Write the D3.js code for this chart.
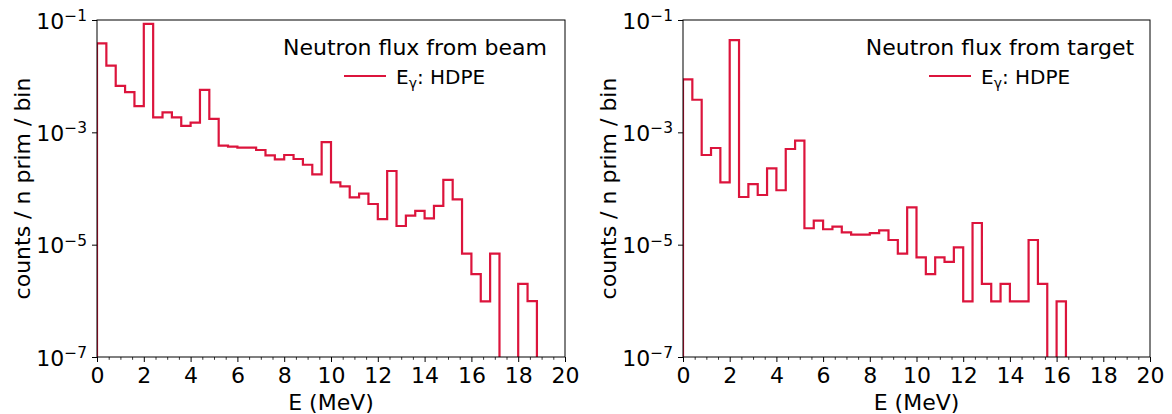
<!DOCTYPE html>
<html>
<head>
<meta charset="utf-8">
<script src="https://cdn.jsdelivr.net/npm/d3@7"></script>
<style>
  html, body { margin: 0; padding: 0; background: #fff; }
  svg { display: block; font-family: "DejaVu Sans", sans-serif; }
</style>
</head>
<body>
<svg id="chart" width="1172" height="414"></svg>
<script>
// ---------------- data ----------------
const binLowEdges = [0, 0.4, 0.8, 1.2, 1.6, 2.0, 2.4, 2.8, 3.2, 3.6, 4.0, 4.4, 4.8, 5.2, 5.6, 6.0, 6.4, 6.8, 7.2, 7.6,
  8.0, 8.4, 8.8, 9.2, 9.6, 10.0, 10.4, 10.8, 11.2, 11.6, 12.0, 12.4, 12.8, 13.2, 13.6, 14.0, 14.4, 14.8, 15.2, 15.6,
  16.0, 16.4, 16.8, 17.2, 17.6, 18.0, 18.4, 18.8, 19.2, 19.6];
const binWidthMeV = 0.4;

const beamFlux = [3.85e-2, 1.54e-2, 6.7e-3, 5.2e-3, 2.94e-3, 8.5e-2, 1.85e-3, 2.27e-3, 1.85e-3, 1.30e-3,
  1.49e-3, 5.7e-3, 1.73e-3, 5.8e-4, 5.55e-4, 5.33e-4, 5.33e-4, 4.85e-4, 3.9e-4, 3.31e-4,
  3.95e-4, 3.35e-4, 2.65e-4, 1.78e-4, 6.7e-4, 1.29e-4, 1.09e-4, 6.97e-5, 8.1e-5, 5.3e-5,
  2.86e-5, 2.05e-4, 2.15e-5, 3.28e-5, 3.98e-5, 2.95e-5, 4.9e-5, 1.42e-4, 6.4e-5, 6.9e-6,
  3.0e-6, 9.8e-7, 6.9e-6, 0, 0, 2.0e-6, 9.9e-7, 0, 0, 0];

const targetFlux = [8.8e-3, 3.8e-3, 3.95e-4, 5.26e-4, 1.29e-4, 4.4e-2, 7.06e-5, 1.2e-4, 7.66e-5, 2.29e-4,
  9.3e-5, 5.05e-4, 7.1e-4, 1.96e-5, 2.67e-5, 1.88e-5, 2.09e-5, 1.66e-5, 1.51e-5, 1.51e-5,
  1.6e-5, 1.8e-5, 1.21e-5, 6.9e-6, 4.62e-5, 5.96e-6, 3.0e-6, 5.96e-6, 4.92e-6, 8.98e-6,
  9.8e-7, 2.43e-5, 2.0e-6, 9.8e-7, 2.0e-6, 9.8e-7, 9.8e-7, 1.21e-5, 2.0e-6, 0,
  9.8e-7, 0, 0, 0, 0, 0, 0, 0, 0, 0];

const xMajorTicks = [0, 2, 4, 6, 8, 10, 12, 14, 16, 18, 20];
const xMinorTicks = [0.5, 1, 1.5, 2.5, 3, 3.5, 4.5, 5, 5.5, 6.5, 7, 7.5, 8.5, 9, 9.5, 10.5, 11, 11.5,
  12.5, 13, 13.5, 14.5, 15, 15.5, 16.5, 17, 17.5, 18.5, 19, 19.5];
const yTicks = [1e-1, 1e-3, 1e-5, 1e-7];
const yTickExponents = ["\u22121", "\u22123", "\u22125", "\u22127"];

const panelTitles = ["Neutron flux from beam", "Neutron flux from target"];
const seriesLabelMain = "E";
const seriesLabelSub = "\u03B3";
const seriesLabelRest = ": HDPE";
const xLabel = "E (MeV)";
const yLabel = "counts / n prim / bin";

// ---------------- layout ----------------
const svg = d3.select("#chart");
const yTop = 20, yBot = 357;
const panels = [
  { x0: 97, x1: 565, data: beamFlux, title: panelTitles[0] },
  { x0: 683, x1: 1150, data: targetFlux, title: panelTitles[1] }
];
const lineColor = "#dc143c";

panels.forEach((p, pi) => {
  const x = d3.scaleLinear().domain([0, 20]).range([p.x0, p.x1]);
  const y = d3.scaleLog().domain([1e-7, 1e-1]).range([yBot, yTop]);
  const g = svg.append("g");

  const clipId = "clip" + pi;
  svg.append("defs").append("clipPath").attr("id", clipId)
    .append("rect").attr("x", p.x0).attr("y", yTop)
    .attr("width", p.x1 - p.x0).attr("height", yBot - yTop);

  // step histogram
  const floorVal = 1e-9;
  const pts = [];
  pts.push([binLowEdges[0], floorVal]);
  p.data.forEach((v, i) => {
    const vv = v > 0 ? v : floorVal;
    pts.push([binLowEdges[i], vv]);
    pts.push([binLowEdges[i] + binWidthMeV, vv]);
  });
  pts.push([binLowEdges[binLowEdges.length - 1] + binWidthMeV, floorVal]);
  const line = d3.line().x(d => x(d[0])).y(d => y(d[1]));
  g.append("path")
    .attr("d", line(pts))
    .attr("clip-path", `url(#${clipId})`)
    .attr("fill", "none")
    .attr("stroke", lineColor)
    .attr("stroke-width", 2.2)
    .attr("stroke-linejoin", "miter");

  // x axis major
  const xAxis = d3.axisBottom(x).tickValues(xMajorTicks).tickSize(5).tickSizeOuter(0)
    .tickFormat(d3.format("d"));
  const gx = g.append("g").attr("transform", `translate(0,${yBot})`).call(xAxis);
  gx.select(".domain").remove();
  gx.selectAll("line").attr("stroke", "#000").attr("stroke-width", 1);
  gx.selectAll("text").attr("y", 25.7).attr("dy", null)
    .attr("font-size", 22).attr("font-family", "DejaVu Sans").attr("fill", "#000");

  // x axis minor
  const xMinor = d3.axisBottom(x).tickValues(xMinorTicks).tickSize(2.8).tickSizeOuter(0).tickFormat("");
  const gxm = g.append("g").attr("transform", `translate(0,${yBot})`).call(xMinor);
  gxm.select(".domain").remove();
  gxm.selectAll("line").attr("stroke", "#000").attr("stroke-width", 0.8);

  // y axis
  const yAxis = d3.axisLeft(y).tickValues(yTicks).tickSize(5).tickSizeOuter(0).tickFormat("");
  const gy = g.append("g").attr("transform", `translate(${p.x0},0)`).call(yAxis);
  gy.select(".domain").remove();
  gy.selectAll("line").attr("stroke", "#000").attr("stroke-width", 1);
  gy.selectAll(".tick").each(function (d, i) {
    const t = d3.select(this).select("text")
      .attr("x", -10).attr("y", 8).attr("dy", null)
      .attr("text-anchor", "end").attr("fill", "#000")
      .attr("font-family", "DejaVu Sans");
    t.text(null);
    t.append("tspan").attr("font-size", 22).text("10");
    t.append("tspan").attr("font-size", 15.4).attr("dy", -7.6).text(yTickExponents[i]);
  });

  // spines
  g.append("rect")
    .attr("x", p.x0).attr("y", yTop)
    .attr("width", p.x1 - p.x0).attr("height", yBot - yTop)
    .attr("fill", "none").attr("stroke", "#000").attr("stroke-width", 1);

  // axis labels
  g.append("text")
    .attr("x", (p.x0 + p.x1) / 2).attr("y", 410)
    .attr("text-anchor", "middle").attr("font-size", 22).attr("fill", "#000")
    .text(xLabel);
  g.append("text")
    .attr("transform", `translate(${p.x0 - 67},${(yTop + yBot) / 2}) rotate(-90)`)
    .attr("text-anchor", "middle").attr("font-size", 22).attr("fill", "#000")
    .text(yLabel);

  // legend
  const cx = p.x1 - 150;
  g.append("text")
    .attr("x", cx).attr("y", 55)
    .attr("text-anchor", "middle").attr("font-size", 22).attr("fill", "#000")
    .text(p.title);
  g.append("line")
    .attr("x1", cx - 71).attr("x2", cx - 29).attr("y1", 76).attr("y2", 76)
    .attr("stroke", lineColor).attr("stroke-width", 2.2);
  const lt = g.append("text")
    .attr("x", cx - 19).attr("y", 84).attr("fill", "#000").attr("font-size", 20);
  lt.append("tspan").text(seriesLabelMain);
  lt.append("tspan").attr("font-size", 14).attr("dy", 4).text(seriesLabelSub);
  lt.append("tspan").attr("dy", -4).text(seriesLabelRest);
});
</script>
</body>
</html>
